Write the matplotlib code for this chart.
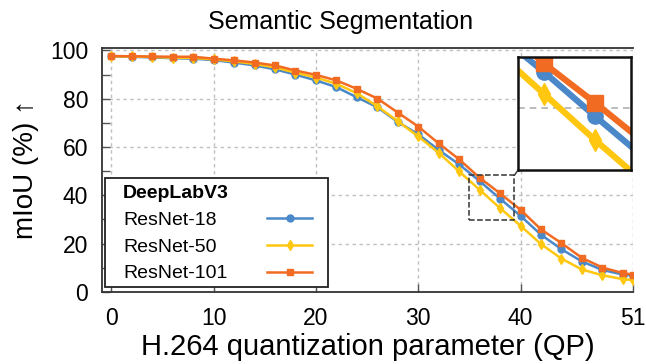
import numpy as np
import matplotlib
matplotlib.use('Agg')
import matplotlib.pyplot as plt
from matplotlib.patches import Rectangle, ConnectionPatch

plt.rcParams['font.family'] = ['Liberation Sans', 'DejaVu Sans']

# QP values and mIoU per backbone
qp = [0, 2, 4, 6, 8, 10, 12, 14, 16, 18, 20, 22, 24, 26, 28, 30, 32, 34, 36,
      38, 40, 42, 44, 46, 48, 50, 51]
resnet18 = [97.6, 97.4, 97.1, 96.8, 96.6, 96.0, 95.0, 93.8, 92.2, 90.0, 87.6,
            84.8, 80.6, 76.5, 70.4, 65.3, 58.8, 52.8, 45.9, 38.6, 31.5, 23.7,
            17.7, 12.6, 9.1, 7.2, 6.8]
resnet50 = [97.6, 97.5, 97.3, 97.0, 96.9, 96.3, 95.5, 94.4, 93.0, 90.8, 88.8,
            86.2, 82.3, 76.9, 70.7, 64.4, 57.6, 49.9, 42.3, 34.7, 27.4, 19.8,
            13.8, 9.3, 6.9, 5.3, 4.9]
resnet101 = [97.7, 97.6, 97.5, 97.4, 97.4, 96.6, 95.9, 95.0, 93.8, 91.7, 89.9,
             87.6, 84.1, 80.1, 74.3, 68.5, 61.5, 54.9, 47.3, 40.8, 34.0, 25.9,
             20.2, 14.1, 10.1, 7.8, 7.2]

labels = ['ResNet-18', 'ResNet-50', 'ResNet-101']
colors = ['#4a88c9', '#ffc710', '#f26b22']
markers = ['o', 'd', 's']
series = [resnet18, resnet50, resnet101]

# zoomed window
zx = (35.0, 39.4)
zy = (29.8, 48.3)

fig = plt.figure(figsize=(6.46, 3.64), dpi=100)
ax = fig.add_axes([0.158, 0.198, 0.822, 0.670])

for y, lab, c, m in zip(series, labels, colors, markers):
    ax.plot(qp, y, color=c, marker=m, markersize=5, linewidth=1.8, label=lab)

ax.set_xlim(-0.9, 51)
ax.set_ylim(0, 101)
ax.set_xticks([0, 10, 20, 30, 40, 51])
ax.set_yticks([0, 20, 40, 60, 80, 100])
ax.set_yticks([10, 30, 50, 70, 90], minor=True)
ax.tick_params(axis='both', which='major', direction='in', length=6,
               width=1, labelsize=16.5, color='#555555')
ax.tick_params(axis='y', which='minor', direction='in', length=6,
               width=1, color='#555555')
ax.tick_params(axis='x', pad=11)
ax.tick_params(axis='y', pad=10)
ax.grid(True, which='major', linestyle=(0, (2.5, 2.5)), color='#c0c0c0',
        linewidth=1)
for s in ['left', 'bottom', 'top']:
    ax.spines[s].set_color('#333333')
    ax.spines[s].set_linewidth(1.3)
ax.spines['right'].set_visible(False)

ax.set_title('Semantic Segmentation', fontsize=18, pad=14, x=0.45)
ax.set_xlabel('H.264 quantization parameter (QP)', fontsize=21, labelpad=2)
ax.set_ylabel('mIoU (%) ↑', fontsize=20, labelpad=8)

# legend: labels on the left, line samples on the right
tr = ax.transAxes
ax.add_patch(Rectangle((0.0056, 0.0205), 0.42, 0.4465, transform=tr,
                       facecolor='white', edgecolor='#222222', linewidth=1.3,
                       zorder=6))
ax.text(0.0395, 0.385, 'DeepLabV3', transform=tr, fontsize=14,
        fontweight='bold', va='baseline', zorder=7)
row_text = [0.275, 0.165, 0.056]
row_line = [0.302, 0.193, 0.083]
for lab, c, m, yt, yl in zip(labels, colors, markers, row_text, row_line):
    ax.text(0.0395, yt, lab, transform=tr, fontsize=14, va='baseline',
            zorder=7)
    ax.plot([0.311, 0.353, 0.395], [yl, yl, yl], transform=tr, color=c,
            marker=m, markevery=[1], markersize=5, linewidth=1.8,
            clip_on=False, zorder=7)

# dashed box around the zoomed region
ax.add_patch(Rectangle((zx[0], zy[0]), zx[1] - zx[0], zy[1] - zy[0],
                       fill=False, linestyle='--', edgecolor='#333333',
                       linewidth=1.1, zorder=5))

# inset
axin = fig.add_axes([0.802, 0.533, 0.175, 0.310])
for y, c, m in zip(series, colors, markers):
    axin.plot(qp, y, color=c, marker=m, markersize=11, linewidth=4.5)
axin.set_xlim(*zx)
axin.set_ylim(*zy)
axin.set_xticks([])
axin.set_yticks([40])
axin.tick_params(left=False, labelleft=False)
axin.grid(True, axis='y', linestyle=(0, (4, 3)), color='#b0b0b0',
          linewidth=1.2)
for s in axin.spines.values():
    s.set_linewidth(1.8)
    s.set_color('#111111')

con = ConnectionPatch(xyA=(zx[1], zy[1]), coordsA=ax.transData,
                      xyB=(zx[0], zy[0]), coordsB=axin.transData,
                      linestyle='--', color='#333333', linewidth=1)
fig.add_artist(con)

fig.savefig('out.png', dpi=100)
